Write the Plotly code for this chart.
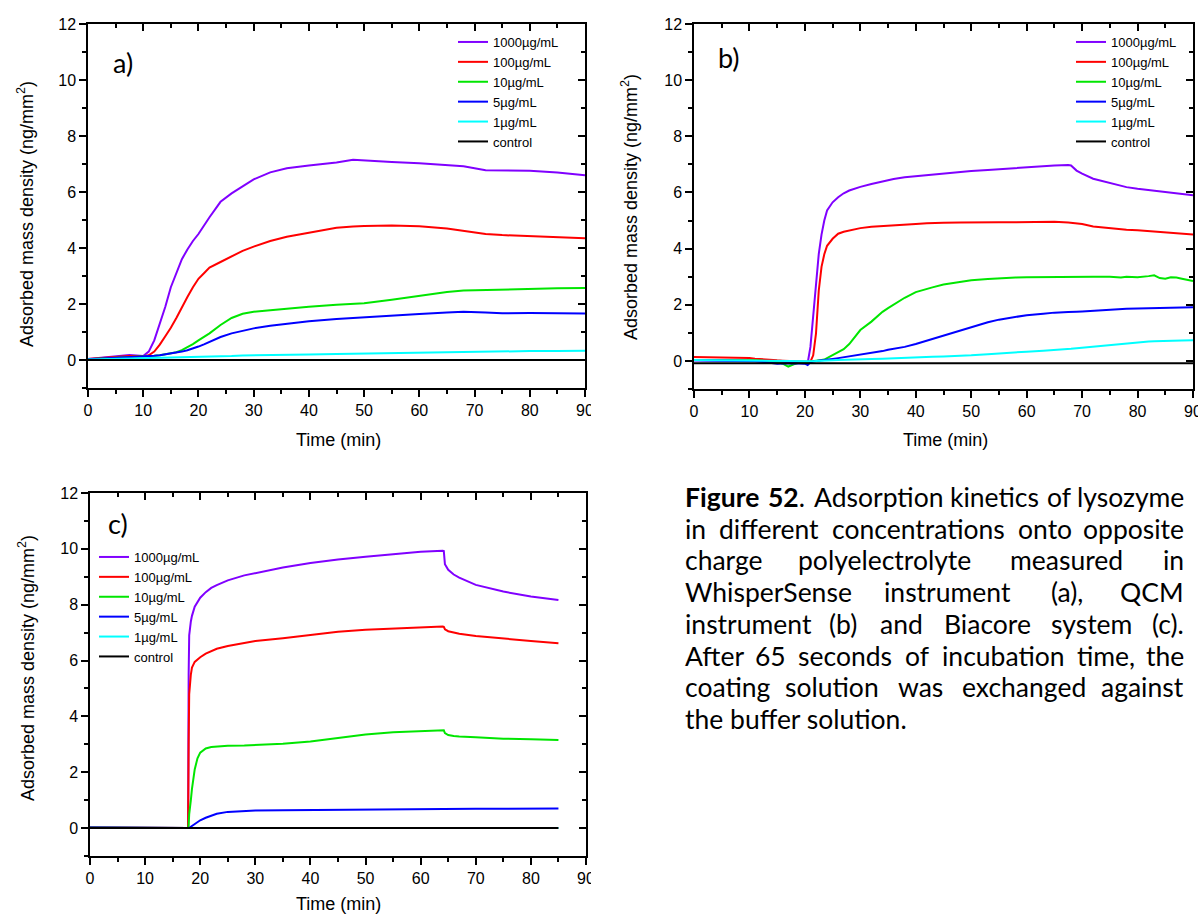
import re
import plotly.graph_objects as go

FIG_W, FIG_H = 1198, 915

series_names = ["1000µg/mL", "100µg/mL", "10µg/mL", "5µg/mL", "1µg/mL", "control"]
series_colors = ["#8000ff", "#ff0000", "#00e600", "#0000ff", "#00ffff", "#000000"]

# ---- (a) WhisperSense ----
t_a = [0, 5, 7.5, 10, 11, 12, 13, 14, 15, 16, 17, 18, 19, 20, 21, 22, 24, 26, 28, 30,
       33, 36, 40, 45, 48, 50, 55, 60, 65, 68, 72, 75, 80, 85, 90]
a_1000 = [0.04, 0.12, 0.18, 0.14, 0.3, 0.7, 1.3, 1.9, 2.6, 3.1, 3.6, 3.95, 4.25, 4.5, 4.8, 5.1,
          5.65, 5.95, 6.2, 6.45, 6.7, 6.85, 6.95, 7.05, 7.15, 7.12, 7.07, 7.03, 6.95, 6.92,
          6.78, 6.77, 6.76, 6.7, 6.6]
a_100 = [0.04, 0.1, 0.14, 0.13, 0.17, 0.3, 0.55, 0.85, 1.15, 1.5, 1.9, 2.25, 2.6, 2.9, 3.1, 3.3,
         3.5, 3.7, 3.9, 4.05, 4.25, 4.4, 4.55, 4.72, 4.77, 4.79, 4.8, 4.78, 4.7, 4.62,
         4.5, 4.46, 4.43, 4.4, 4.35]
a_10 = [0.03, 0.07, 0.1, 0.12, 0.13, 0.15, 0.17, 0.2, 0.24, 0.28, 0.35, 0.45, 0.57, 0.7, 0.82, 0.95,
        1.25, 1.5, 1.65, 1.72, 1.78, 1.84, 1.9, 1.97, 2.0, 2.03, 2.15, 2.3, 2.43, 2.48,
        2.5, 2.52, 2.55, 2.56, 2.57]
a_5 = [0.03, 0.07, 0.1, 0.12, 0.13, 0.15, 0.17, 0.2, 0.23, 0.26, 0.3, 0.35, 0.41, 0.48, 0.56, 0.65,
       0.82, 0.95, 1.05, 1.13, 1.22, 1.3, 1.38, 1.46, 1.5, 1.53, 1.58, 1.64, 1.7, 1.72,
       1.7, 1.67, 1.68, 1.67, 1.66]
a_1 = [0.02, 0.04, 0.05, 0.06, 0.065, 0.07, 0.07, 0.075, 0.08, 0.08, 0.085, 0.09, 0.095, 0.1, 0.1,
       0.11, 0.12, 0.14, 0.16, 0.17, 0.18, 0.19, 0.2, 0.21, 0.22, 0.23, 0.25, 0.28, 0.29, 0.3,
       0.3, 0.31, 0.32, 0.32, 0.33]
t_a_ctrl = [0, 45, 90]
a_ctrl = [0.0, 0.0, 0.0]

# ---- (b) QCM ----
t_b = [0, 5, 10, 11, 13, 15, 16, 17, 18, 19, 20, 20.5, 21, 21.5, 22, 22.5, 23, 23.5, 24,
       25, 26, 27, 28, 29, 30, 32, 34, 35, 36, 38, 40, 42, 43, 45, 48, 50, 53, 55, 58, 60,
       63, 65, 67.5, 68, 69, 70, 72, 75, 77, 78, 80, 82, 83, 84, 85, 86, 87, 88, 90]
b_1000 = [0.02, 0.01, 0.0, 0.0, -0.02, -0.05, -0.06, -0.06, -0.06, -0.07, -0.08,
          -0.08, 0.5, 1.6, 2.75, 3.8, 4.5, 5.0, 5.36,
          5.65, 5.83, 5.97, 6.07, 6.14, 6.2, 6.3, 6.4, 6.45, 6.48, 6.54, 6.58,
          6.62, 6.64, 6.68, 6.73, 6.76, 6.8, 6.83, 6.87, 6.9, 6.93, 6.96,
          6.98, 6.96, 6.78, 6.67, 6.49, 6.33, 6.23, 6.19, 6.13,
          6.08, 6.06, 6.03, 6.01, 5.99, 5.96, 5.94, 5.9]
b_100 = [0.14, 0.13, 0.1, 0.08, 0.04, 0.02, 0.01, 0.0, 0.0, -0.01, -0.02,
         -0.03, -0.03, 0.2, 0.97, 2.5, 3.35, 3.8, 4.1,
         4.35, 4.53, 4.6, 4.65, 4.7, 4.73, 4.78, 4.81, 4.83, 4.84, 4.86, 4.88,
         4.9, 4.91, 4.92, 4.93, 4.94, 4.94, 4.94, 4.94, 4.94, 4.95, 4.96,
         4.93, 4.92, 4.9, 4.88, 4.79, 4.72, 4.68, 4.67, 4.65,
         4.62, 4.61, 4.6, 4.59, 4.57, 4.55, 4.53, 4.5]
b_10 = [0.03, 0.03, 0.02, 0.02, 0.0, -0.03, -0.1, -0.2, -0.12, -0.06, -0.05,
        -0.04, -0.03, -0.02, -0.01, 0.01, 0.03, 0.05, 0.1,
        0.2, 0.3, 0.42, 0.6, 0.85, 1.1, 1.4, 1.75, 1.88, 2.0, 2.25, 2.45,
        2.57, 2.62, 2.72, 2.82, 2.87, 2.92, 2.95, 2.97, 2.98, 2.99, 3.0,
        3.0, 3.0, 3.0, 3.0, 3.0, 3.0, 2.97, 3.0, 2.98,
        3.02, 3.05, 2.95, 2.93, 2.98, 2.97, 2.93, 2.85]
b_5 = [0.02, 0.01, 0.0, 0.0, -0.05, -0.1, -0.09, -0.08, -0.08, -0.09, -0.1,
       -0.15, -0.05, -0.02, 0.0, 0.01, 0.02, 0.03, 0.05,
       0.07, 0.1, 0.13, 0.16, 0.19, 0.22, 0.28, 0.35, 0.4, 0.43, 0.5, 0.6,
       0.72, 0.78, 0.9, 1.08, 1.22, 1.38, 1.47, 1.57, 1.63, 1.68, 1.72,
       1.74, 1.75, 1.75, 1.76, 1.79, 1.83, 1.85, 1.86, 1.87,
       1.88, 1.88, 1.89, 1.89, 1.9, 1.9, 1.9, 1.91]
b_1 = [0.03, 0.02, 0.0, 0.0, -0.01, -0.01, -0.02, -0.02, -0.02, -0.02, -0.02,
       -0.02, -0.02, -0.01, 0.0, 0.0, 0.01, 0.01, 0.02,
       0.02, 0.03, 0.04, 0.04, 0.05, 0.05, 0.07, 0.08, 0.09, 0.1, 0.11, 0.12,
       0.14, 0.15, 0.16, 0.18, 0.2, 0.24, 0.27, 0.3, 0.33, 0.36, 0.38,
       0.42, 0.43, 0.45, 0.47, 0.5, 0.55, 0.6, 0.63, 0.67,
       0.69, 0.7, 0.71, 0.72, 0.72, 0.73, 0.73, 0.74]
t_b_ctrl = [0, 45, 90]
b_ctrl = [-0.08, -0.08, -0.08]

# ---- (c) Biacore ----
t_c = [0, 5, 10, 15, 17.8, 17.9, 18, 18.3, 18.5, 19, 19.5, 20, 21, 22, 23, 25, 28, 30,
       35, 40, 45, 50, 55, 60, 64, 64.2, 64.4, 65, 66, 67, 70, 75, 80, 85]
c_1000 = [0.02, 0.01, 0.0, 0.0, 0.0, 5.5, 6.9, 7.4, 7.6, 7.93, 8.1, 8.25, 8.45, 8.6, 8.7,
          8.87, 9.05, 9.13, 9.33, 9.49, 9.62, 9.72, 9.82, 9.9, 9.93, 9.92, 9.45,
          9.25, 9.08, 8.97, 8.71, 8.47, 8.29, 8.17]
c_100 = [0.02, 0.01, 0.0, 0.0, 0.0, 3.0, 4.8, 5.5, 5.75, 5.95, 6.05, 6.12, 6.25, 6.35, 6.42,
         6.52, 6.64, 6.7, 6.8, 6.92, 7.03, 7.1, 7.15, 7.19, 7.22, 7.21, 7.12,
         7.05, 7.0, 6.96, 6.88, 6.78, 6.7, 6.62]
c_10 = [0.02, 0.01, 0.0, 0.0, 0.0, 0.1, 0.5, 1.0, 1.4, 2.1, 2.5, 2.7, 2.85, 2.9, 2.92,
        2.95, 2.96, 2.97, 3.02, 3.1, 3.22, 3.35, 3.43, 3.48, 3.5, 3.5, 3.4,
        3.33, 3.3, 3.28, 3.25, 3.2, 3.18, 3.15]
c_5 = [0.02, 0.01, 0.0, 0.0, 0.0, 0.0, 0.0, 0.05, 0.08, 0.15, 0.22, 0.28, 0.37, 0.45, 0.51,
       0.58, 0.62, 0.63, 0.64, 0.65, 0.66, 0.67, 0.675, 0.68, 0.685, 0.685, 0.685,
       0.685, 0.685, 0.69, 0.69, 0.69, 0.7, 0.7]
t_c_flat = [0, 42.5, 85]
c_1 = [0.0, 0.0, 0.0]
c_ctrl = [0.0, 0.0, 0.0]

panel_letters = ["a)", "b)", "c)"]
x_title = "Time (min)"
y_title = "Adsorbed mass density (ng/mm<sup>2</sup>)"
x_ticks = [0, 10, 20, 30, 40, 50, 60, 70, 80, 90]
y_ticks = [0, 2, 4, 6, 8, 10, 12]

caption_words = [
    ["<b>Figure</b>", "<b>52</b>.", "Adsorption", "kinetics", "of", "lysozyme"],
    ["in", "different", "concentrations", "onto", "opposite"],
    ["charge", "polyelectrolyte", "measured", "in"],
    ["WhisperSense", "instrument", "(a),", "QCM"],
    ["instrument", "(b)", "and", "Biacore", "system", "(c)."],
    ["After", "65", "seconds", "of", "incubation", "time,", "the"],
    ["coating", "solution", "was", "exchanged", "against"],
    ["the", "buffer", "solution."],
]

AX_FONT = "Liberation Sans, Arial, sans-serif"
CAP_FONT = "Lato, Carlito, Calibri, sans-serif"


def px(xp):
    return xp / FIG_W


def py(yp):
    return 1 - yp / FIG_H


# panel frames in pixels: left, right, top (y=12), bottom (y=-1)
frames = [
    (88, 585, 24, 388),
    (694, 1193, 24, 389),
    (90, 586, 493, 856),
]

panels = [
    ([t_a] * 5 + [t_a_ctrl], [a_1000, a_100, a_10, a_5, a_1, a_ctrl]),
    ([t_b] * 5 + [t_b_ctrl], [b_1000, b_100, b_10, b_5, b_1, b_ctrl]),
    ([t_c] * 4 + [t_c_flat, t_c_flat], [c_1000, c_100, c_10, c_5, c_1, c_ctrl]),
]

fig = go.Figure()
layout = {}
legend_ids = ["legend", "legend2", "legend3"]

for i, (times, values) in enumerate(panels):
    n = i + 1
    xs = "" if n == 1 else str(n)
    xid, yid = "x" + xs, "y" + xs
    top_id, right_id = "x" + str(n + 3), "y" + str(n + 3)
    for name, col, tt, vv in zip(series_names, series_colors, times, values):
        fig.add_trace(go.Scatter(
            x=tt, y=vv, mode="lines", name=name,
            line=dict(color=col, width=2),
            xaxis=xid, yaxis=yid, legend=legend_ids[i],
        ))
    # carrier traces for the mirrored inside-tick axes
    fig.add_trace(go.Scatter(x=[None], y=[None], xaxis=top_id, yaxis=yid,
                             showlegend=False, hoverinfo="skip"))
    fig.add_trace(go.Scatter(x=[None], y=[None], xaxis=xid, yaxis=right_id,
                             showlegend=False, hoverinfo="skip"))

    l, r, t, b = frames[i]
    common = dict(showgrid=False, zeroline=False, tickcolor="black", tickwidth=1.5,
                  automargin=False)
    minor_x = dict(dtick=5, tick0=0, ticklen=4, tickwidth=1.5, tickcolor="black", showgrid=False)
    minor_y = dict(dtick=1, tick0=0, ticklen=4, tickwidth=1.5, tickcolor="black", showgrid=False)
    layout["xaxis" + xs] = dict(
        domain=[px(l), px(r)], range=[0, 90], anchor=yid,
        tickmode="array", tickvals=x_ticks, ticklabeloverflow="allow",
        ticks="outside", ticklen=7, minor=dict(ticks="outside", **minor_x),
        showline=True, linecolor="black", linewidth=1.5, mirror=True,
        tickfont=dict(family=AX_FONT, size=16, color="black"), **common)
    layout["yaxis" + xs] = dict(
        domain=[py(b), py(t)], range=[-1, 12], anchor=xid,
        tickmode="array", tickvals=y_ticks,
        ticks="outside", ticklen=7, minor=dict(ticks="outside", **minor_y),
        showline=True, linecolor="black", linewidth=1.5, mirror=True,
        tickfont=dict(family=AX_FONT, size=16, color="black"), **common)
    layout["xaxis" + str(n + 3)] = dict(
        overlaying=xid, side="top", anchor=yid, range=[0, 90],
        tickmode="array", tickvals=x_ticks, showticklabels=False,
        ticks="inside", ticklen=7, minor=dict(ticks="inside", **minor_x),
        showline=False, **common)
    layout["yaxis" + str(n + 3)] = dict(
        overlaying=yid, side="right", anchor=xid, range=[-1, 12],
        tickmode="array", tickvals=y_ticks, showticklabels=False,
        ticks="inside", ticklen=7, minor=dict(ticks="inside", **minor_y),
        showline=False, **common)

legend_pos = [(453, 27), (1071, 27), (94, 542)]
for lid, (lx, ly) in zip(legend_ids, legend_pos):
    layout[lid] = dict(
        x=px(lx), y=py(ly), xanchor="left", yanchor="top",
        bgcolor="rgba(0,0,0,0)", borderwidth=0, itemwidth=30,
        font=dict(family=AX_FONT, size=13, color="black"), tracegroupgap=0,
    )

annotations = []
# panel letters
for letter, (lx, ly) in zip(panel_letters, [(123, 62), (729, 57), (118, 523)]):
    annotations.append(dict(text=letter, x=px(lx), y=py(ly), xref="paper", yref="paper",
                            showarrow=False, xanchor="center", yanchor="middle",
                            font=dict(family=CAP_FONT, size=27, color="black")))
# axis titles
for (tx, ty) in [(338, 440), (945, 440), (338, 904)]:
    annotations.append(dict(text=x_title, x=px(tx), y=py(ty), xref="paper", yref="paper",
                            showarrow=False, xanchor="center", yanchor="middle",
                            font=dict(family=AX_FONT, size=18, color="black")))
for (tx, ty) in [(25, 214), (630, 207), (26, 668)]:
    annotations.append(dict(text=y_title, x=px(tx), y=py(ty), xref="paper", yref="paper",
                            showarrow=False, xanchor="center", yanchor="middle", textangle=-90,
                            font=dict(family=AX_FONT, size=18, color="black")))

# justified caption block
CHAR_W = {
    "a": .49, "b": .55, "c": .45, "d": .55, "e": .51, "f": .31, "g": .49, "h": .55, "i": .23,
    "j": .23, "k": .49, "l": .23, "m": .83, "n": .55, "o": .55, "p": .55, "q": .55, "r": .35,
    "s": .41, "t": .33, "u": .55, "v": .49, "w": .75, "x": .47, "y": .49, "z": .44,
    "A": .66, "B": .63, "C": .66, "F": .53, "M": .86, "Q": .78, "S": .53, "W": .98,
    ".": .2, ",": .2, "(": .3, ")": .3,
}
CAP_SIZE = 26.5
CAP_LEFT, CAP_RIGHT = 683, 1186
CAP_TOP, CAP_STEP = 497, 31.7


def word_width(w):
    plain = re.sub(r"<[^>]+>", "", w)
    em = sum(CHAR_W.get(ch, .55 if ch.isdigit() else .62) for ch in plain)
    if "<b>" in w:
        em *= 1.06
    return em * CAP_SIZE


for li, words in enumerate(caption_words):
    yline = CAP_TOP + li * CAP_STEP
    cap_font = dict(family=CAP_FONT, size=CAP_SIZE, color="black")
    if li == len(caption_words) - 1:
        annotations.append(dict(text=" ".join(words), x=px(CAP_LEFT), y=py(yline),
                                xref="paper", yref="paper", showarrow=False,
                                xanchor="left", yanchor="middle", font=cap_font))
        continue
    widths = [word_width(w) for w in words]
    gap = (CAP_RIGHT - CAP_LEFT - sum(widths)) / (len(words) - 1)
    pos = CAP_LEFT
    for wi, (w, ww) in enumerate(zip(words, widths)):
        if wi == 0:
            xa, anchor = pos, "left"
        elif wi == len(words) - 1:
            xa, anchor = CAP_RIGHT, "right"
        else:
            xa, anchor = pos + ww / 2, "center"
        annotations.append(dict(text=w, x=px(xa), y=py(yline), xref="paper", yref="paper",
                                showarrow=False, xanchor=anchor, yanchor="middle",
                                font=cap_font))
        pos += ww + gap

# the left-column plots are trimmed on their right edge
shapes = [
    dict(type="rect", xref="paper", yref="paper", x0=px(591), x1=px(615),
         y0=py(425), y1=py(393), fillcolor="white", line=dict(width=0), layer="above"),
    dict(type="rect", xref="paper", yref="paper", x0=px(591), x1=px(640),
         y0=py(893), y1=py(861), fillcolor="white", line=dict(width=0), layer="above"),
]

fig.update_layout(
    template="none",
    width=FIG_W, height=FIG_H,
    margin=dict(l=0, r=0, t=0, b=0, autoexpand=False),
    paper_bgcolor="white", plot_bgcolor="white",
    font=dict(family=AX_FONT, color="black"),
    annotations=annotations, shapes=shapes,
    **layout,
)

fig.write_html("out.html")
